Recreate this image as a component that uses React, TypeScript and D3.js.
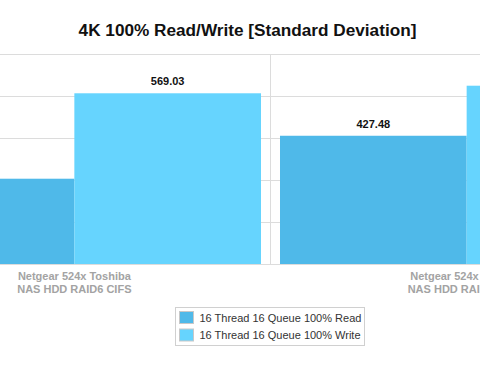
import React from "react";
import * as d3 from "d3";

const categories = ["Netgear 524x Toshiba NAS HDD RAID6 CIFS", "Netgear 524x Toshiba NAS HDD RAID6 iSCSI"];
const categoryLines = [
  ["Netgear 524x Toshiba", "NAS HDD RAID6 CIFS"],
  ["Netgear 524x Toshiba", "NAS HDD RAID6 iSCSI"],
];
const seriesNames = ["16 Thread 16 Queue 100% Read", "16 Thread 16 Queue 100% Write"];
const readValues = [284.3, 427.48];
const writeValues = [569.03, 594.3];
const yTicks = [0, 140, 280, 420, 560, 700];
const colors = ["#4fb9e9", "#66d4fe"];

export default function App() {
  const W = 480, H = 370;
  const baseY = 264, topY = 54;
  const y = d3.scaleLinear().domain([0, 700]).range([baseY, topY]);
  const x0 = d3.scaleBand<string>().domain(categories).range([-121.8, 662.8]);
  const x1 = d3.scaleBand<string>().domain(seriesNames).range([9.5, x0.bandwidth() - 9.5]);
  const series = [readValues, writeValues];
  const font = "'Liberation Sans', Arial, Helvetica, sans-serif";

  return (
    <svg width={W} height={H} style={{ position: "absolute", left: 0, top: 0, background: "#fff" }} fontFamily={font}>
      <text x={247.5} y={36} textAnchor="middle" fontSize={17.2} fontWeight="bold" fill="#111">
        4K 100% Read/Write [Standard Deviation]
      </text>
      {yTicks.map((t) => (
        <line key={t} x1={0} x2={W} y1={Math.round(y(t)) + 0.5} y2={Math.round(y(t)) + 0.5} stroke="#dcdcdc" strokeWidth={1} />
      ))}
      {categories.map((c, i) =>
        i > 0 ? (
          <line key={c} x1={Math.round(x0(c)!) + 0.5} x2={Math.round(x0(c)!) + 0.5} y1={topY} y2={baseY} stroke="#dcdcdc" />
        ) : null
      )}
      {categories.map((c, ci) =>
        seriesNames.map((s, si) => {
          const v = series[si][ci];
          const bx = x0(c)! + x1(s)!;
          const cx = bx + x1.bandwidth() / 2;
          const visible = cx - 20 >= 0 && cx + 20 <= W;
          return (
            <g key={c + s}>
              <rect x={bx} y={y(v)} width={x1.bandwidth()} height={baseY - y(v)} fill={colors[si]} />
              {visible ? (
                <text x={cx} y={y(v) - 8} textAnchor="middle" fontSize={11} fontWeight="bold" fill="#111">
                  {v.toFixed(2)}
                </text>
              ) : null}
            </g>
          );
        })
      )}
      {categories.map((c, ci) => (
        <text key={c} x={x0(c)! + x0.bandwidth() / 2} textAnchor="middle" fontSize={11} fontWeight="bold" fill="#a3a3a3">
          {categoryLines[ci].map((l, li) => (
            <tspan key={li} x={x0(c)! + x0.bandwidth() / 2} y={280 + li * 13.3}>
              {l}
            </tspan>
          ))}
        </text>
      ))}
      <rect x={175.5} y={307.5} width={189} height={38} fill="#fff" stroke="#d0d0d0" />
      {seriesNames.map((s, i) => (
        <g key={s}>
          <rect x={179.5} y={311.5 + i * 17.5} width={14} height={12} fill={colors[i]} stroke="#c8c8c8" />
          <text x={199.5} y={321.5 + i * 17.5} fontSize={11} fill="#333">
            {s}
          </text>
        </g>
      ))}
    </svg>
  );
}
